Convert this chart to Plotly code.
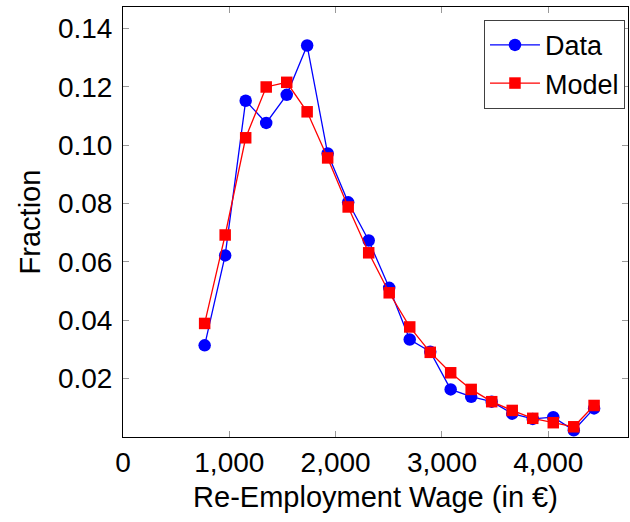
import plotly.graph_objects as go

# Re-employment wage bins (euros) and fractions
wage = [768, 961, 1154, 1347, 1540, 1732, 1925, 2118, 2311, 2504,
        2697, 2890, 3082, 3275, 3468, 3661, 3854, 4047, 4240, 4431]
data_frac = [0.0314, 0.0622, 0.1152, 0.1076, 0.1172, 0.1341, 0.0971, 0.0804,
             0.0673, 0.0511, 0.0334, 0.0292, 0.0163, 0.0138, 0.0121, 0.0080,
             0.0062, 0.0068, 0.0023, 0.0098]
model_frac = [0.0389, 0.0692, 0.1025, 0.1199, 0.1215, 0.1114, 0.0956, 0.0788,
              0.0631, 0.0494, 0.0377, 0.0290, 0.0220, 0.0163, 0.0121, 0.0091,
              0.0064, 0.0049, 0.0035, 0.0108]

x_ticks = [0, 1000, 2000, 3000, 4000]
y_ticks = [0.02, 0.04, 0.06, 0.08, 0.10, 0.12, 0.14]

FONT = "Liberation Sans, Arial, Helvetica, sans-serif"
TICK_SIZE = 28
TITLE_SIZE = 29
LEGEND_SIZE = 27

fig = go.Figure()
fig.add_trace(go.Scatter(
    x=wage, y=data_frac, name="Data", mode="lines+markers",
    line=dict(color="#0000ff", width=1.3),
    marker=dict(symbol="circle", size=12.5, color="#0000ff"),
))
fig.add_trace(go.Scatter(
    x=wage, y=model_frac, name="Model", mode="lines+markers",
    line=dict(color="#ff0000", width=1.3),
    marker=dict(symbol="square", size=11.5, color="#ff0000"),
))

axis_common = dict(
    showline=True, linecolor="black", linewidth=1, mirror="ticks",
    ticks="inside", ticklen=6, tickcolor="#999999", tickwidth=1,
    showgrid=False, zeroline=False,
    tickfont=dict(family=FONT, size=TICK_SIZE, color="black"),
)

fig.update_xaxes(
    range=[0, 4750], tickvals=x_ticks, tickformat=",d",
    title=dict(text="Re-Employment Wage (in €)",
               font=dict(family=FONT, size=TITLE_SIZE, color="black"), standoff=10),
    **axis_common,
)
fig.update_yaxes(
    range=[0, 0.1473], tickvals=y_ticks, tickformat=".2f",
    ticklabelstandoff=4,
    title=dict(text="Fraction",
               font=dict(family=FONT, size=TITLE_SIZE, color="black"), standoff=8),
    **axis_common,
)

fig.update_layout(
    width=630, height=522,
    margin=dict(l=123, r=2, t=7, b=85),
    paper_bgcolor="white", plot_bgcolor="white",
    font=dict(family=FONT, size=TICK_SIZE, color="black"),
    legend=dict(
        x=0.994, y=0.970, xanchor="right", yanchor="top",
        bgcolor="white", bordercolor="#404040", borderwidth=1,
        font=dict(family=FONT, size=LEGEND_SIZE, color="black"),
        itemwidth=50, tracegroupgap=0,
    ),
    showlegend=True,
)

fig.write_html("out.html")
